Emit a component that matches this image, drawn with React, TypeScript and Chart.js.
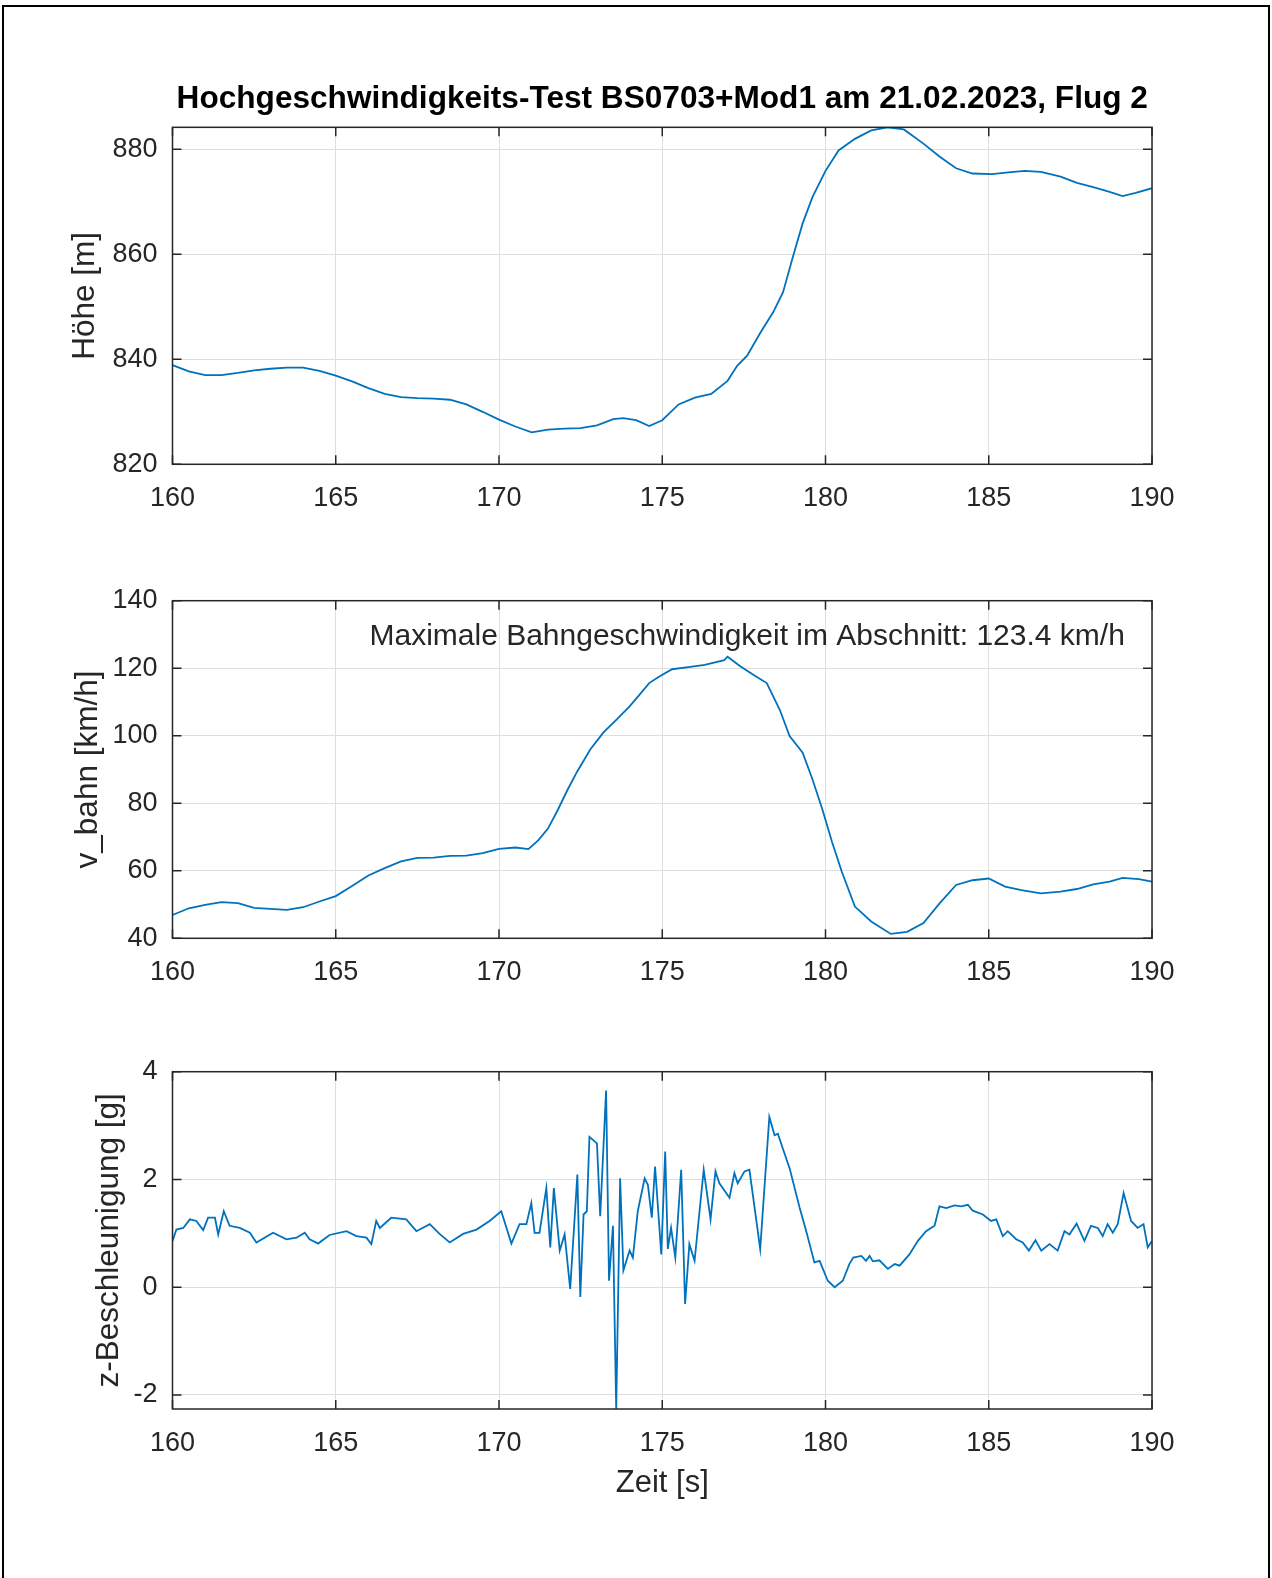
import React, { useEffect, useRef } from 'react';
import { Chart, registerables } from 'chart.js';

Chart.register(...registerables);

// ---------- DATA ----------
const titleText = 'Hochgeschwindigkeits-Test BS0703+Mod1 am 21.02.2023, Flug 2';
const noteText = 'Maximale Bahngeschwindigkeit im Abschnitt: 123.4 km/h';

const timeHoehe = [
  160.0, 160.5, 161.0, 161.5, 162.0, 162.5, 163.0, 163.5, 164.0, 164.5,
  165.0, 165.5, 166.0, 166.5, 167.0, 167.5, 168.0, 168.5, 169.0, 169.5,
  170.0, 170.5, 171.0, 171.5, 172.0, 172.5, 173.0, 173.5, 173.8, 174.2,
  174.6, 175.0, 175.5, 176.0, 176.5, 177.0, 177.3, 177.6, 178.0, 178.4,
  178.7, 179.0, 179.3, 179.6, 180.0, 180.4, 180.9, 181.4, 181.9, 182.4,
  183.0, 183.5, 184.0, 184.5, 185.1, 185.6, 186.1, 186.6, 187.2, 187.7,
  188.2, 188.7, 189.1, 189.5, 190.0,
];
const hoehe = [
  838.9, 837.7, 837.0, 837.0, 837.4, 837.9, 838.2, 838.4, 838.4, 837.8,
  836.9, 835.8, 834.5, 833.4, 832.8, 832.6, 832.5, 832.3, 831.4, 830.0,
  828.5, 827.2, 826.1, 826.6, 826.8, 826.9, 827.4, 828.6, 828.8, 828.4,
  827.3, 828.4, 831.4, 832.7, 833.4, 835.9, 838.8, 840.7, 845.0, 849.0,
  852.8, 859.5, 865.9, 870.9, 875.9, 879.8, 882.0, 883.6, 884.2, 883.8,
  881.1, 878.6, 876.4, 875.4, 875.3, 875.6, 875.9, 875.7, 874.8, 873.6,
  872.8, 871.9, 871.1, 871.7, 872.6,
];

const timeSpeed = [
  160.0, 160.5, 161.0, 161.5, 162.0, 162.5, 163.0, 163.5, 164.0, 164.5,
  165.0, 165.5, 166.0, 166.5, 167.0, 167.5, 168.0, 168.5, 169.0, 169.5,
  170.0, 170.5, 170.9, 171.2, 171.5, 171.8, 172.1, 172.4, 172.8, 173.2,
  173.6, 174.0, 174.3, 174.6, 174.9, 175.3, 175.8, 176.3, 176.9, 177.0,
  177.4, 177.8, 178.2, 178.6, 178.9, 179.3, 179.6, 179.9, 180.2, 180.5,
  180.9, 181.4, 182.0, 182.5, 183.0, 183.5, 184.0, 184.5, 185.0, 185.5,
  186.0, 186.6, 187.2, 187.7, 188.2, 188.7, 189.1, 189.6, 190.0,
];
const speed = [
  46.9, 48.9, 49.9, 50.7, 50.4, 49.0, 48.7, 48.4, 49.2, 50.9,
  52.5, 55.5, 58.6, 60.8, 62.8, 63.8, 63.9, 64.4, 64.5, 65.2,
  66.5, 66.9, 66.4, 69.0, 72.5, 78.0, 84.0, 89.5, 96.0, 101.0,
  104.8, 108.7, 112.1, 115.6, 117.5, 119.7, 120.3, 121.0, 122.4, 123.4,
  120.5, 118.0, 115.6, 107.7, 99.9, 95.0, 87.1, 78.3, 68.5, 59.7,
  49.4, 45.0, 41.3, 41.9, 44.5, 50.4, 55.8, 57.2, 57.7, 55.3,
  54.3, 53.3, 53.8, 54.6, 56.0, 56.8, 57.9, 57.5, 56.8,
];

const timeAcc = [
  160.00, 160.12, 160.33, 160.53, 160.73, 160.94, 161.09, 161.30, 161.40, 161.57,
  161.75, 162.06, 162.37, 162.57, 163.08, 163.49, 163.80, 164.05, 164.20, 164.46,
  164.81, 165.33, 165.63, 165.94, 166.09, 166.24, 166.35, 166.70, 167.16, 167.47,
  167.88, 168.18, 168.49, 168.90, 169.31, 169.71, 170.07, 170.38, 170.63, 170.84,
  170.99, 171.09, 171.24, 171.45, 171.57, 171.68, 171.86, 172.01, 172.18, 172.40,
  172.49, 172.59, 172.69, 172.77, 173.00, 173.10, 173.28, 173.37, 173.49, 173.59,
  173.71, 173.81, 174.00, 174.10, 174.25, 174.46, 174.56, 174.68, 174.78, 174.97,
  175.09, 175.17, 175.27, 175.40, 175.58, 175.70, 175.83, 175.99, 176.27, 176.48,
  176.63, 176.75, 177.06, 177.21, 177.31, 177.52, 177.67, 178.00, 178.28, 178.44,
  178.54, 178.69, 178.90, 179.21, 179.41, 179.66, 179.82, 180.07, 180.28, 180.53,
  180.73, 180.85, 181.10, 181.24, 181.35, 181.45, 181.65, 181.91, 182.12, 182.27,
  182.57, 182.83, 183.08, 183.34, 183.49, 183.70, 183.95, 184.16, 184.36, 184.51,
  184.82, 185.07, 185.23, 185.43, 185.58, 185.84, 186.04, 186.23, 186.43, 186.61,
  186.86, 187.11, 187.32, 187.47, 187.69, 187.93, 188.13, 188.34, 188.49, 188.64,
  188.80, 188.95, 189.13, 189.36, 189.56, 189.74, 189.87, 190.00,
];
const accZ = [
  0.86, 1.07, 1.10, 1.26, 1.23, 1.06, 1.29, 1.29, 0.98, 1.41,
  1.14, 1.10, 1.01, 0.83, 1.01, 0.89, 0.92, 1.01, 0.89, 0.81,
  0.97, 1.04, 0.95, 0.92, 0.80, 1.23, 1.10, 1.29, 1.26, 1.04,
  1.17, 0.99, 0.83, 0.99, 1.07, 1.23, 1.41, 0.81, 1.17, 1.17,
  1.56, 1.01, 1.01, 1.84, 0.74, 1.84, 0.68, 0.98, -0.03, 2.09,
  -0.18, 1.35, 1.41, 2.79, 2.67, 1.32, 3.65, 0.12, 1.14, -2.27,
  2.02, 0.31, 0.68, 0.55, 1.41, 2.02, 1.90, 1.29, 2.24, 0.61,
  2.52, 0.71, 1.10, 0.55, 2.18, -0.31, 0.80, 0.49, 2.18, 1.26,
  2.15, 1.93, 1.66, 2.12, 1.93, 2.15, 2.18, 0.71, 3.16, 2.82,
  2.85, 2.58, 2.21, 1.47, 1.04, 0.46, 0.49, 0.12, 0.00, 0.12,
  0.43, 0.55, 0.58, 0.49, 0.58, 0.48, 0.50, 0.34, 0.43, 0.40,
  0.61, 0.86, 1.04, 1.14, 1.50, 1.47, 1.52, 1.50, 1.53, 1.42,
  1.35, 1.23, 1.26, 0.95, 1.04, 0.89, 0.83, 0.68, 0.87, 0.68,
  0.80, 0.68, 1.04, 0.98, 1.18, 0.86, 1.14, 1.10, 0.95, 1.17,
  1.01, 1.17, 1.75, 1.23, 1.10, 1.17, 0.74, 0.86,
];

// ---------- STYLE ----------
const FONT = "'Liberation Sans', Arial, Helvetica, sans-serif";
const AX = '#262626';
const GRID = '#dedede';
const LINE = '#0072BD';

const framePlugin = {
  id: 'frameTicks',
  afterDatasetsDraw(chart: any) {
    const { ctx, chartArea: a, scales } = chart;
    const L = 9;
    ctx.save();
    ctx.strokeStyle = AX;
    ctx.lineWidth = 1.5;
    ctx.beginPath();
    scales.x.ticks.forEach((t: any) => {
      const p = scales.x.getPixelForValue(t.value);
      ctx.moveTo(p, a.bottom); ctx.lineTo(p, a.bottom - L);
      ctx.moveTo(p, a.top); ctx.lineTo(p, a.top + L);
    });
    scales.y.ticks.forEach((t: any) => {
      const p = scales.y.getPixelForValue(t.value);
      ctx.moveTo(a.left, p); ctx.lineTo(a.left + L, p);
      ctx.moveTo(a.right, p); ctx.lineTo(a.right - L, p);
    });
    ctx.stroke();
    ctx.strokeRect(a.left, a.top, a.right - a.left, a.bottom - a.top);
    ctx.restore();
  },
};

const notePlugin = {
  id: 'note',
  afterDraw(chart: any, _args: any, opts: any) {
    if (!opts || !opts.text) return;
    const { ctx, scales } = chart;
    ctx.save();
    ctx.font = `${opts.size}px ${FONT}`;
    ctx.fillStyle = AX;
    ctx.textAlign = 'center';
    ctx.textBaseline = 'middle';
    ctx.fillText(opts.text, scales.x.getPixelForValue(opts.x), scales.y.getPixelForValue(opts.y));
    ctx.restore();
  },
};

type PlotCfg = {
  times: number[];
  values: number[];
  yMin: number;
  yMax: number;
  yStep: number;
  yLabel: string;
  yLabelPad: number;
  padTop: number;
  xHeight: number;
  title?: boolean;
  xLabel?: string;
  note?: any;
};

function Plot({ cfg, top, height }: { cfg: PlotCfg; top: number; height: number }) {
  const ref = useRef<HTMLCanvasElement | null>(null);
  useEffect(() => {
    if (!ref.current) return;
    const data = cfg.times.map((t, i) => ({ x: t, y: cfg.values[i] }));
    const chart = new Chart(ref.current, {
      type: 'line',
      data: {
        datasets: [
          {
            data,
            borderColor: LINE,
            borderWidth: 1.8,
            pointRadius: 0,
            tension: 0,
            fill: false,
          },
        ],
      },
      plugins: [framePlugin, notePlugin],
      options: {
        responsive: false,
        animation: false,
        events: [],
        layout: { padding: { left: 0, right: 120, top: cfg.padTop, bottom: 0 } },
        plugins: {
          legend: { display: false },
          tooltip: { enabled: false },
          title: {
            display: !!cfg.title,
            text: titleText,
            fullSize: false,
            color: '#000000',
            font: { family: FONT, size: 31.6, weight: 'bold' },
            padding: { top: 80.5, bottom: 8.9 },
          },
          note: cfg.note || {},
        } as any,
        scales: {
          x: {
            type: 'linear',
            min: 160,
            max: 190,
            afterFit: (s: any) => { s.height = cfg.xHeight; },
            ticks: {
              stepSize: 5,
              color: AX,
              font: { family: FONT, size: 27 },
              padding: 18,
              maxRotation: 0,
              autoSkip: false,
            },
            grid: { color: GRID, lineWidth: 1, drawTicks: false },
            border: { display: false },
            title: {
              display: !!cfg.xLabel,
              text: cfg.xLabel || '',
              color: AX,
              font: { family: FONT, size: 31 },
              padding: { top: 0, bottom: 47.5 },
            },
          },
          y: {
            type: 'linear',
            min: cfg.yMin,
            max: cfg.yMax,
            afterFit: (s: any) => { s.width = 172.5; },
            ticks: {
              stepSize: cfg.yStep,
              includeBounds: false,
              color: AX,
              font: { family: FONT, size: 27 },
              padding: 15,
            },
            grid: { color: GRID, lineWidth: 1, drawTicks: false },
            border: { display: false },
            title: {
              display: true,
              text: cfg.yLabel,
              color: AX,
              font: { family: FONT, size: 31.5 },
              padding: { top: cfg.yLabelPad, bottom: 0 },
            },
          },
        },
      } as any,
    });
    return () => chart.destroy();
  }, []);
  return (
    <canvas
      ref={ref}
      width={1272}
      height={height}
      style={{ position: 'absolute', left: 0, top, width: 1272, height }}
    />
  );
}

const plotHoehe: PlotCfg = {
  times: timeHoehe, values: hoehe, yMin: 820, yMax: 884.2, yStep: 20,
  yLabel: 'Höhe [m]', yLabelPad: 66, padTop: 0, xHeight: 75.7, title: true,
};
const plotSpeed: PlotCfg = {
  times: timeSpeed, values: speed, yMin: 40, yMax: 140, yStep: 20,
  yLabel: 'v_bahn [km/h]', yLabelPad: 69, padTop: 60.7, xHeight: 81.7,
  note: { text: noteText, x: 177.6, y: 129.2, size: 30 },
};
const plotAcc: PlotCfg = {
  times: timeAcc, values: accZ, yMin: -2.26, yMax: 4, yStep: 2,
  yLabel: 'z-Beschleunigung [g]', yLabelPad: 90, padTop: 51.7, xHeight: 141,
  xLabel: 'Zeit [s]',
};

export default function App() {
  return (
    <div
      style={{
        position: 'absolute', left: 0, top: 0, width: 1272, height: 1578,
        background: '#ffffff', overflow: 'hidden',
      }}
    >
      <div
        style={{
          position: 'absolute', left: 2, top: 5, width: 1268, height: 1600,
          border: '2px solid #000', boxSizing: 'border-box',
        }}
      />
      <Plot cfg={plotHoehe} top={0} height={540} />
      <Plot cfg={plotSpeed} top={540} height={480} />
      <Plot cfg={plotAcc} top={1020} height={530} />
    </div>
  );
}
